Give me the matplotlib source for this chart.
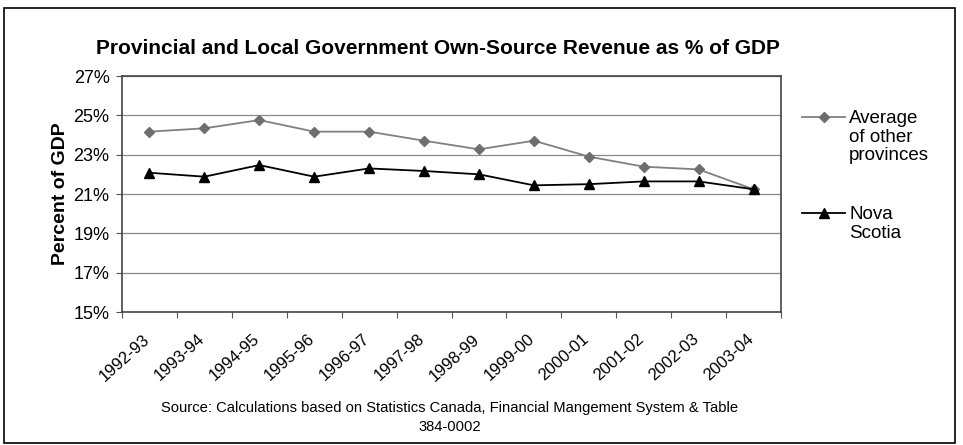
import matplotlib
matplotlib.use("Agg")
import matplotlib.pyplot as plt
import matplotlib.transforms as mtransforms
from matplotlib.lines import Line2D
from matplotlib.patches import Rectangle

years = ["1992-93", "1993-94", "1994-95", "1995-96", "1996-97", "1997-98",
         "1998-99", "1999-00", "2000-01", "2001-02", "2002-03", "2003-04"]
avg_other = [24.17, 24.34, 24.76, 24.17, 24.17, 23.71,
             23.27, 23.71, 22.90, 22.39, 22.25, 21.24]
nova_scotia = [22.08, 21.88, 22.47, 21.88, 22.30, 22.17,
               22.00, 21.44, 21.50, 21.64, 21.64, 21.24]
yticks = [15, 17, 19, 21, 23, 25, 27]
series_names = ["Average\nof other\nprovinces", "Nova\nScotia"]

plt.rcParams['font.family'] = ['Liberation Sans', 'DejaVu Sans']

W, H = 963, 445
fig = plt.figure(figsize=(W / 100, H / 100), dpi=100)
ax = fig.add_axes([122 / W, 1 - 312 / H, (781 - 122) / W, (312 - 76) / H])

avg_style = dict(color='#808080', marker='D', markersize=5.5, markerfacecolor='#6e6e6e',
                 markeredgecolor='#6e6e6e', linewidth=1.3)
ns_style = dict(color='black', marker='^', markersize=7.5, linewidth=1.3)

x = list(range(len(years)))
ax.plot(x, avg_other, **avg_style)
ax.plot(x, nova_scotia, **ns_style)

ax.set_xlim(-0.5, len(years) - 0.5)
ax.set_ylim(15, 27)
ax.set_yticks(yticks)
ax.set_yticklabels([f"{v}%" for v in yticks], fontsize=13)
ax.yaxis.grid(True, color='#8a8a8a', linewidth=0.9)
ax.set_axisbelow(True)

# category ticks sit between points, labels under each point
ax.set_xticks([i - 0.5 for i in range(len(years) + 1)])
ax.set_xticklabels([])
ax.set_xticks(x, minor=True)
ax.set_xticklabels(years, minor=True, rotation=42, ha='right',
                   rotation_mode='anchor', fontsize=12)
ax.tick_params(axis='x', which='minor', length=0, pad=14)
ax.tick_params(axis='x', which='major', length=4, color='#555555')
ax.tick_params(axis='y', length=4, color='#555555', pad=5)
shift = mtransforms.ScaledTranslation(-7 / 100, 0, fig.dpi_scale_trans)
for lab in ax.get_xticklabels(minor=True):
    lab.set_transform(lab.get_transform() + shift)

for s in ax.spines.values():
    s.set_color('#444444')
    s.set_linewidth(1.2)

ax.set_ylabel("Percent of GDP", fontsize=14, fontweight='bold', labelpad=3)
fig.text(438 / W, 1 - 49 / H, "Provincial and Local Government Own-Source Revenue as % of GDP",
         ha='center', va='center', fontsize=15, fontweight='bold')

# legend drawn by hand: short line with marker, text to the right
for name, style, ly in [(series_names[0], avg_style, 117), (series_names[1], ns_style, 213)]:
    yf = 1 - ly / H
    fig.add_artist(Line2D([802 / W, 845 / W], [yf, yf], transform=fig.transFigure,
                          color=style['color'], linewidth=style['linewidth']))
    fig.add_artist(Line2D([824 / W], [yf], transform=fig.transFigure,
                          linestyle='none', **{k: v for k, v in style.items()
                                               if k.startswith('marker')},
                          color=style['color']))
    fig.text(849 / W, yf + 7 / H, name, ha='left', va='top', fontsize=13.5,
             linespacing=1.12)

fig.text(450 / W, 1 - 408 / H,
         "Source: Calculations based on Statistics Canada, Financial Mangement System & Table",
         ha='center', va='center', fontsize=10.6)
fig.text(450 / W, 1 - 427 / H, "384-0002", ha='center', va='center', fontsize=10.6)

fig.patches.append(Rectangle((4 / W, 2 / H), 951 / W, (H - 10) / H, transform=fig.transFigure,
                             fill=False, edgecolor='black', linewidth=1.2))

fig.savefig("out.png", dpi=100)
